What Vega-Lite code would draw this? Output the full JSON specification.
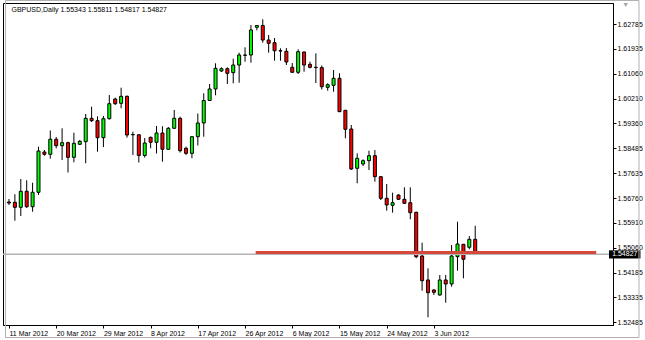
{
  "$schema": "https://vega.github.io/schema/vega-lite/v6.json",
  "width": 610,
  "height": 322,
  "autosize": {"type": "none"},
  "padding": {"left": 3, "top": 3, "right": 32, "bottom": 15},
  "background": "#ffffff",
  "config": {
    "view": {"stroke": "#000000", "strokeWidth": 1},
    "font": "Liberation Sans",
    "axis": {"labelOverlap": false, "labelFlush": false, "labelBound": false, "grid": false, "title": null,
             "domainColor": "#000000", "tickColor": "#000000", "tickSize": 3, "labelPadding": 1,
             "labelFont": "Liberation Sans", "labelFontSize": 7, "labelColor": "#000000"}
  },
  "data": {
    "values": [
      {"d": "2012-03-11", "i": 0, "o": 1.56633, "h": 1.56737, "l": 1.56530, "c": 1.56599},
      {"d": "2012-03-12", "i": 1, "o": 1.56623, "h": 1.56899, "l": 1.55987, "c": 1.56450},
      {"d": "2012-03-13", "i": 2, "o": 1.56450, "h": 1.57428, "l": 1.56149, "c": 1.57003},
      {"d": "2012-03-14", "i": 3, "o": 1.57003, "h": 1.57383, "l": 1.56426, "c": 1.56471},
      {"d": "2012-03-15", "i": 4, "o": 1.56471, "h": 1.57300, "l": 1.56298, "c": 1.56969},
      {"d": "2012-03-16", "i": 5, "o": 1.56969, "h": 1.58545, "l": 1.56875, "c": 1.58396},
      {"d": "2012-03-18", "i": 6, "o": 1.58361, "h": 1.58430, "l": 1.58233, "c": 1.58282},
      {"d": "2012-03-19", "i": 7, "o": 1.58282, "h": 1.59104, "l": 1.58130, "c": 1.58804},
      {"d": "2012-03-20", "i": 8, "o": 1.58800, "h": 1.58880, "l": 1.58489, "c": 1.58579},
      {"d": "2012-03-21", "i": 9, "o": 1.58579, "h": 1.59180, "l": 1.58085, "c": 1.58683},
      {"d": "2012-03-22", "i": 10, "o": 1.58683, "h": 1.58717, "l": 1.57653, "c": 1.58178},
      {"d": "2012-03-23", "i": 11, "o": 1.58178, "h": 1.59028, "l": 1.58005, "c": 1.58662},
      {"d": "2012-03-25", "i": 12, "o": 1.58627, "h": 1.58776, "l": 1.58603, "c": 1.58731},
      {"d": "2012-03-26", "i": 13, "o": 1.58717, "h": 1.59675, "l": 1.57971, "c": 1.59526},
      {"d": "2012-03-27", "i": 14, "o": 1.59526, "h": 1.59927, "l": 1.59398, "c": 1.59443},
      {"d": "2012-03-28", "i": 15, "o": 1.59443, "h": 1.59595, "l": 1.58372, "c": 1.58856},
      {"d": "2012-03-29", "i": 16, "o": 1.58856, "h": 1.59605, "l": 1.58534, "c": 1.59512},
      {"d": "2012-03-30", "i": 17, "o": 1.59512, "h": 1.60331, "l": 1.59484, "c": 1.60031},
      {"d": "2012-04-01", "i": 18, "o": 1.60193, "h": 1.60238, "l": 1.59986, "c": 1.60031},
      {"d": "2012-04-02", "i": 19, "o": 1.60044, "h": 1.60584, "l": 1.59872, "c": 1.60286},
      {"d": "2012-04-03", "i": 20, "o": 1.60286, "h": 1.60314, "l": 1.58856, "c": 1.58949},
      {"d": "2012-04-04", "i": 21, "o": 1.58966, "h": 1.59063, "l": 1.58258, "c": 1.58956},
      {"d": "2012-04-05", "i": 22, "o": 1.58956, "h": 1.58983, "l": 1.57998, "c": 1.58240},
      {"d": "2012-04-06", "i": 23, "o": 1.58240, "h": 1.58845, "l": 1.58171, "c": 1.58672},
      {"d": "2012-04-08", "i": 24, "o": 1.58869, "h": 1.58890, "l": 1.58489, "c": 1.58697},
      {"d": "2012-04-09", "i": 25, "o": 1.58697, "h": 1.59260, "l": 1.58310, "c": 1.59018},
      {"d": "2012-04-10", "i": 26, "o": 1.59018, "h": 1.59250, "l": 1.58026, "c": 1.58455},
      {"d": "2012-04-11", "i": 27, "o": 1.58455, "h": 1.59225, "l": 1.58448, "c": 1.59180},
      {"d": "2012-04-12", "i": 28, "o": 1.59180, "h": 1.59813, "l": 1.59156, "c": 1.59526},
      {"d": "2012-04-13", "i": 29, "o": 1.59526, "h": 1.59581, "l": 1.58344, "c": 1.58406},
      {"d": "2012-04-15", "i": 30, "o": 1.58489, "h": 1.58545, "l": 1.58258, "c": 1.58316},
      {"d": "2012-04-16", "i": 31, "o": 1.58316, "h": 1.58904, "l": 1.58144, "c": 1.58890},
      {"d": "2012-04-17", "i": 32, "o": 1.58890, "h": 1.59692, "l": 1.58586, "c": 1.59364},
      {"d": "2012-04-18", "i": 33, "o": 1.59364, "h": 1.60390, "l": 1.58890, "c": 1.60141},
      {"d": "2012-04-19", "i": 34, "o": 1.60141, "h": 1.60711, "l": 1.60124, "c": 1.60539},
      {"d": "2012-04-20", "i": 35, "o": 1.60539, "h": 1.61427, "l": 1.60321, "c": 1.61254},
      {"d": "2012-04-22", "i": 36, "o": 1.61161, "h": 1.61289, "l": 1.61126, "c": 1.61240},
      {"d": "2012-04-23", "i": 37, "o": 1.61240, "h": 1.61289, "l": 1.60711, "c": 1.61081},
      {"d": "2012-04-24", "i": 38, "o": 1.61102, "h": 1.61586, "l": 1.60736, "c": 1.61368},
      {"d": "2012-04-25", "i": 39, "o": 1.61368, "h": 1.61793, "l": 1.60756, "c": 1.61714},
      {"d": "2012-04-26", "i": 40, "o": 1.61714, "h": 1.61980, "l": 1.61482, "c": 1.61703},
      {"d": "2012-04-27", "i": 41, "o": 1.61714, "h": 1.62750, "l": 1.61448, "c": 1.62578},
      {"d": "2012-04-29", "i": 42, "o": 1.62671, "h": 1.62740, "l": 1.62567, "c": 1.62733},
      {"d": "2012-04-30", "i": 43, "o": 1.62733, "h": 1.62947, "l": 1.62139, "c": 1.62232},
      {"d": "2012-05-01", "i": 44, "o": 1.62232, "h": 1.62405, "l": 1.61793, "c": 1.62118},
      {"d": "2012-05-02", "i": 45, "o": 1.62139, "h": 1.62301, "l": 1.61517, "c": 1.61862},
      {"d": "2012-05-03", "i": 46, "o": 1.61862, "h": 1.61945, "l": 1.61517, "c": 1.61852},
      {"d": "2012-05-04", "i": 47, "o": 1.61842, "h": 1.61956, "l": 1.61368, "c": 1.61472},
      {"d": "2012-05-06", "i": 48, "o": 1.61289, "h": 1.61437, "l": 1.61109, "c": 1.61116},
      {"d": "2012-05-07", "i": 49, "o": 1.61116, "h": 1.61911, "l": 1.61057, "c": 1.61828},
      {"d": "2012-05-08", "i": 50, "o": 1.61817, "h": 1.61828, "l": 1.61136, "c": 1.61368},
      {"d": "2012-05-09", "i": 51, "o": 1.61392, "h": 1.61482, "l": 1.61254, "c": 1.61289},
      {"d": "2012-05-10", "i": 52, "o": 1.61289, "h": 1.61772, "l": 1.60746, "c": 1.61278},
      {"d": "2012-05-11", "i": 53, "o": 1.61278, "h": 1.61351, "l": 1.60521, "c": 1.60618},
      {"d": "2012-05-13", "i": 54, "o": 1.60597, "h": 1.60736, "l": 1.60480, "c": 1.60687},
      {"d": "2012-05-14", "i": 55, "o": 1.60666, "h": 1.61195, "l": 1.60445, "c": 1.60908},
      {"d": "2012-05-15", "i": 56, "o": 1.60908, "h": 1.61081, "l": 1.59744, "c": 1.59754},
      {"d": "2012-05-16", "i": 57, "o": 1.59802, "h": 1.59813, "l": 1.58835, "c": 1.59146},
      {"d": "2012-05-17", "i": 58, "o": 1.59156, "h": 1.59294, "l": 1.57739, "c": 1.57774},
      {"d": "2012-05-18", "i": 59, "o": 1.57798, "h": 1.58316, "l": 1.57280, "c": 1.58144},
      {"d": "2012-05-20", "i": 60, "o": 1.57947, "h": 1.58109, "l": 1.57877, "c": 1.58061},
      {"d": "2012-05-21", "i": 61, "o": 1.58061, "h": 1.58406, "l": 1.57739, "c": 1.58233},
      {"d": "2012-05-22", "i": 62, "o": 1.58233, "h": 1.58430, "l": 1.57335, "c": 1.57508},
      {"d": "2012-05-23", "i": 63, "o": 1.57508, "h": 1.57532, "l": 1.56702, "c": 1.56761},
      {"d": "2012-05-24", "i": 64, "o": 1.56761, "h": 1.57255, "l": 1.56333, "c": 1.56530},
      {"d": "2012-05-25", "i": 65, "o": 1.56519, "h": 1.56955, "l": 1.56264, "c": 1.56609},
      {"d": "2012-05-27", "i": 66, "o": 1.56875, "h": 1.56899, "l": 1.56702, "c": 1.56727},
      {"d": "2012-05-28", "i": 67, "o": 1.56727, "h": 1.57141, "l": 1.56564, "c": 1.56588},
      {"d": "2012-05-29", "i": 68, "o": 1.56609, "h": 1.57141, "l": 1.56035, "c": 1.56264},
      {"d": "2012-05-30", "i": 69, "o": 1.56277, "h": 1.56298, "l": 1.54688, "c": 1.54743},
      {"d": "2012-05-31", "i": 70, "o": 1.54767, "h": 1.55227, "l": 1.53568, "c": 1.53913},
      {"d": "2012-06-01", "i": 71, "o": 1.53938, "h": 1.54342, "l": 1.52649, "c": 1.53499},
      {"d": "2012-06-03", "i": 72, "o": 1.53592, "h": 1.53616, "l": 1.53419, "c": 1.53513},
      {"d": "2012-06-04", "i": 73, "o": 1.53419, "h": 1.54110, "l": 1.53395, "c": 1.53938},
      {"d": "2012-06-05", "i": 74, "o": 1.53938, "h": 1.54110, "l": 1.53153, "c": 1.53799},
      {"d": "2012-06-06", "i": 75, "o": 1.53799, "h": 1.55147, "l": 1.53706, "c": 1.54767},
      {"d": "2012-06-07", "i": 76, "o": 1.54743, "h": 1.55952, "l": 1.54259, "c": 1.55182},
      {"d": "2012-06-08", "i": 77, "o": 1.55171, "h": 1.55182, "l": 1.53996, "c": 1.54653},
      {"d": "2012-06-10", "i": 78, "o": 1.55068, "h": 1.55458, "l": 1.54999, "c": 1.55343},
      {"d": "2012-06-11", "i": 79, "o": 1.55343, "h": 1.55811, "l": 1.54817, "c": 1.54827}
    ]
  },
  "layer": [
    {
      "mark": {"type": "rule", "color": "#000000", "strokeWidth": 1, "clip": true},
      "encoding": {
        "x": {
          "field": "i",
          "type": "quantitative",
          "scale": {"domain": [-0.16667, 101.5], "nice": false, "zero": false},
          "axis": {
            "orient": "bottom",
            "values": [0, 8, 16, 24, 32, 40, 48, 56, 64, 72],
            "tickCount": 40,
            "labelExpr": "datum.value == 0 ? '11 Mar 2012' : datum.value == 8 ? '20 Mar 2012' : datum.value == 16 ? '29 Mar 2012' : datum.value == 24 ? '8 Apr 2012' : datum.value == 32 ? '17 Apr 2012' : datum.value == 40 ? '26 Apr 2012' : datum.value == 48 ? '6 May 2012' : datum.value == 56 ? '15 May 2012' : datum.value == 64 ? '24 May 2012' : '3 Jun 2012'",
            "title": null,
            "labelAlign": "left",
            "labelBaseline": "top",
            "labelOverlap": false
          }
        },
        "y": {
          "field": "l",
          "type": "quantitative",
          "scale": {"domain": [1.52382, 1.63511], "nice": false, "zero": false},
          "axis": {
            "orient": "right",
            "values": [1.52485, 1.53335, 1.54185, 1.5506, 1.5591, 1.5676, 1.57635, 1.58485, 1.5936, 1.6021, 1.6106, 1.61935, 1.62785],
            "tickCount": 40,
            "format": ".5f",
            "title": null,
            "labelOverlap": false
          }
        },
        "y2": {"field": "h"}
      }
    },
    {
      "mark": {"type": "bar", "width": 3, "stroke": "#000000", "strokeWidth": 1, "clip": true, "orient": "vertical"},
      "encoding": {
        "x": {"field": "i", "type": "quantitative"},
        "y": {"field": "o", "type": "quantitative"},
        "y2": {"field": "c"},
        "fill": {
          "condition": {"test": "datum.c < datum.o", "value": "#ff0000"},
          "value": "#00ff00"
        }
      }
    },
    {
      "data": {"values": [{}]},
      "mark": {"type": "rule", "color": "#b4b4b4", "strokeWidth": 1.5},
      "encoding": {
        "y": {"datum": 1.54827, "type": "quantitative"}
      }
    },
    {
      "data": {"values": [{}]},
      "mark": {"type": "rule", "color": "#d4493b", "strokeWidth": 3},
      "encoding": {
        "x": {"datum": 41.8, "type": "quantitative"},
        "x2": {"datum": 99.5},
        "y": {"datum": 1.5489, "type": "quantitative"}
      }
    },
    {
      "data": {"values": [{}]},
      "mark": {"type": "rect", "fill": "#000000"},
      "encoding": {
        "x": {"datum": 101.67, "type": "quantitative"},
        "x2": {"datum": 107},
        "y": {"datum": 1.54962, "type": "quantitative"},
        "y2": {"datum": 1.54681}
      }
    },
    {
      "data": {"values": [{}]},
      "mark": {"type": "text", "text": "1.54827", "color": "#ffffff", "align": "left", "baseline": "middle", "font": "Liberation Sans", "fontSize": 7},
      "encoding": {
        "x": {"datum": 102.2, "type": "quantitative"},
        "y": {"datum": 1.54827, "type": "quantitative"}
      }
    },
    {
      "data": {"values": [{}]},
      "mark": {"type": "text", "text": "GBPUSD,Daily  1.55343 1.55811 1.54817 1.54827", "color": "#000000", "align": "left", "baseline": "alphabetic", "font": "Liberation Sans", "fontSize": 7},
      "encoding": {
        "x": {"datum": 0.42, "type": "quantitative"},
        "y": {"datum": 1.632, "type": "quantitative"}
      }
    },
    {
      "data": {"values": [{}]},
      "mark": {"type": "rect", "fill": null, "stroke": "#b0b0b0", "strokeWidth": 1},
      "encoding": {
        "x": {"datum": -0.5833, "type": "quantitative"},
        "x2": {"datum": 106.75},
        "y": {"datum": 1.63597, "type": "quantitative"},
        "y2": {"datum": 1.51950}
      }
    },
    {
      "data": {"values": [{}]},
      "mark": {"type": "point", "shape": "triangle-down", "filled": true, "color": "#a8a8a8", "size": 22, "opacity": 1},
      "encoding": {
        "x": {"datum": 104.5, "type": "quantitative"},
        "y": {"datum": 1.63442, "type": "quantitative"}
      }
    }
  ]
}
